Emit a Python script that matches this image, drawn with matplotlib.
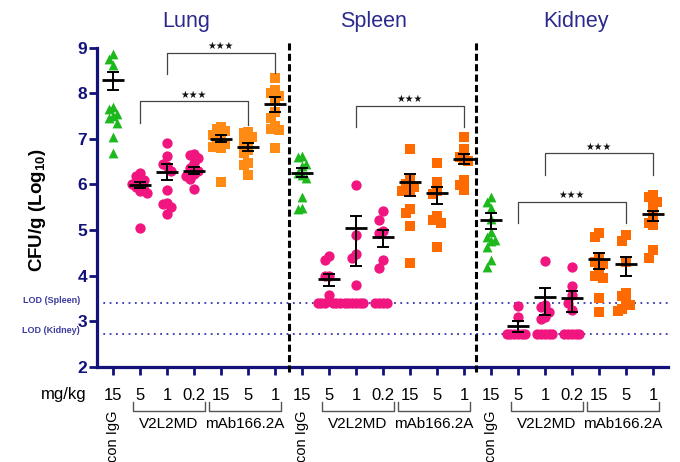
import numpy as np
import matplotlib
matplotlib.use("Agg")
import matplotlib.pyplot as plt
from matplotlib.transforms import blended_transform_factory

plt.rcParams['font.family'] = ['Liberation Sans', 'DejaVu Sans']
plt.rcParams['mathtext.default'] = 'regular'

# ---- data ----
organs = ["Lung", "Spleen", "Kidney"]
doses = ["15", "5", "1", "0.2", "15", "5", "1"]
lod_spleen = 3.40
lod_kidney = 2.72

lung_pts = [
    [8.87, 8.75, 8.62, 7.70, 7.65, 7.55, 7.50, 7.45, 7.35, 7.05, 6.68],
    [6.25, 6.18, 6.10, 6.05, 6.00, 5.95, 5.88, 5.85, 5.82, 5.05],
    [6.90, 6.62, 6.45, 6.40, 6.30, 5.88, 5.60, 5.57, 5.50, 5.35],
    [6.67, 6.64, 6.58, 6.46, 6.35, 6.30, 6.22, 6.18, 6.12, 5.90],
    [7.25, 7.22, 7.18, 7.08, 7.00, 6.95, 6.88, 6.83, 6.80, 6.05],
    [7.16, 7.12, 7.05, 6.95, 6.90, 6.75, 6.70, 6.46, 6.43, 6.20],
    [8.33, 8.07, 8.00, 7.95, 7.85, 7.60, 7.45, 7.28, 7.22, 7.20, 6.79],
]
spleen_pts = [
    [6.62, 6.60, 6.45, 6.40, 6.25, 6.20, 6.15, 5.73, 5.49, 5.47],
    [4.43, 4.35, 4.00, 3.98, 3.58, 3.40, 3.40, 3.40, 3.40, 3.40, 3.40],
    [5.99, 4.90, 4.48, 4.38, 3.80, 3.40, 3.40, 3.40, 3.40, 3.40, 3.40],
    [5.42, 5.23, 4.98, 4.93, 4.34, 4.16, 3.40, 3.40, 3.40, 3.40],
    [6.77, 6.10, 6.02, 5.95, 5.88, 5.85, 5.45, 5.38, 5.09, 4.28],
    [6.46, 6.06, 5.85, 5.78, 5.30, 5.22, 5.15, 4.63],
    [7.03, 6.77, 6.60, 6.55, 6.52, 6.10, 5.99, 5.88],
]
kidney_pts = [
    [5.73, 5.62, 5.48, 5.25, 4.95, 4.84, 4.78, 4.75, 4.63, 4.34, 4.19],
    [3.33, 3.10, 2.72, 2.72, 2.72, 2.72, 2.72, 2.72],
    [4.33, 3.35, 3.30, 3.20, 3.10, 3.05, 2.72, 2.72, 2.72, 2.72, 2.72],
    [4.18, 3.77, 3.57, 3.40, 3.25, 2.72, 2.72, 2.72, 2.72, 2.72],
    [4.93, 4.85, 4.40, 4.30, 4.25, 4.10, 4.00, 3.95, 3.50, 3.20],
    [4.90, 4.75, 4.30, 3.62, 3.55, 3.40, 3.35, 3.27, 3.22],
    [5.77, 5.72, 5.62, 5.50, 5.30, 5.15, 5.10, 4.56, 4.38],
]

lung_mean = [8.30, 5.98, 6.28, 6.30, 7.00, 6.82, 7.76]
lung_lo = [8.08, 5.92, 6.09, 6.22, 6.92, 6.73, 7.60]
lung_hi = [8.47, 6.06, 6.45, 6.38, 7.08, 6.91, 7.91]
spleen_mean = [6.26, 3.93, 5.05, 4.85, 6.05, 5.82, 6.56]
spleen_lo = [6.16, 3.78, 4.22, 4.62, 5.74, 5.58, 6.44]
spleen_hi = [6.35, 4.04, 5.31, 4.99, 6.22, 5.94, 6.67]
kidney_mean = [5.23, 2.90, 3.52, 3.50, 4.37, 4.25, 5.34]
kidney_lo = [5.03, 2.76, 3.13, 3.19, 4.15, 3.99, 5.19]
kidney_hi = [5.37, 3.00, 3.72, 3.66, 4.49, 4.41, 5.42]

# significance brackets: (x1, x2, top, left leg end, right leg end)
sig = [(1, 5, 7.82, 7.34, 7.30), (2, 6, 8.89, 8.42, 8.44),
       (9, 13, 7.72, 7.25, 7.25),
       (15, 19, 5.62, 5.15, 5.15), (16, 20, 6.68, 6.21, 6.21)]

all_pts = [lung_pts, spleen_pts, kidney_pts]
all_mean = [lung_mean, spleen_mean, kidney_mean]
all_lo = [lung_lo, spleen_lo, kidney_lo]
all_hi = [lung_hi, spleen_hi, kidney_hi]

green = "#1cb81c"
pink = "#f0157f"
orange = ["#ff8a14", "#ff6a00", "#ff6a00"]
navy = "#12127a"
title_col = "#2a2a8e"


def swarm(vals, dx=0.28, dy=0.4, thr=0.5, step=0.14):
    # simple beeswarm so dots of close value spread sideways
    vals = np.asarray(vals)
    order = np.argsort(-vals, kind="stable")
    placed = []
    offs = np.zeros(len(vals))
    for i in order:
        y = vals[i]
        for k in [0, -1, 1, -2, 2, -3, 3, -4, 4, -5, 5, -6, 6]:
            ox = k * step
            if all(((ox - px) / dx) ** 2 + ((y - py) / dy) ** 2 >= thr ** 2
                   for px, py in placed):
                break
        offs[i] = ox
        placed.append((ox, y))
    return offs


fig = plt.figure(figsize=(6.8, 4.62), dpi=100)
ax = fig.add_axes([97 / 680, 1 - 366.7 / 462, 571 / 680, 319 / 462])
ax.set_xlim(-0.59, 20.56)
ax.set_ylim(2, 9)

for p in range(3):
    for g in range(7):
        x0 = p * 7 + g
        vals = all_pts[p][g]
        offs = swarm(vals)
        if g == 0:
            ax.scatter(x0 + offs, vals, marker="^", s=50, color=green, lw=0, zorder=3)
        elif g <= 3:
            ax.scatter(x0 + offs, vals, marker="o", s=55, color=pink, lw=0, zorder=3)
        else:
            ax.scatter(x0 + offs, vals, marker="s", s=48, color=orange[p], lw=0, zorder=3)
        m = all_mean[p][g]
        ax.hlines(m, x0 - 0.4, x0 + 0.4, color="black", lw=2.0, zorder=5)
        ax.errorbar(x0, m, yerr=[[m - all_lo[p][g]], [all_hi[p][g] - m]],
                    fmt="none", ecolor="black", elinewidth=1.4, capsize=4.5,
                    capthick=1.4, zorder=5)

# LOD lines
ax.axhline(lod_spleen, color="#3535b0", lw=1.3, ls=(0, (1, 2.5)), zorder=1)
ax.axhline(lod_kidney, color="#3535b0", lw=1.3, ls=(0, (1, 2.5)), zorder=1)

# organ separators
for xs in [6.52, 13.45]:
    ax.plot([xs, xs], [1.89, 9.17], color="black", lw=2.2,
            ls=(0, (2.3, 1.1)), clip_on=False, zorder=6)

# significance brackets
for x1, x2, top, l1, l2 in sig:
    ax.plot([x1, x1, x2, x2], [l1, top, top, l2], color="#444444", lw=0.9, zorder=4)
    ax.text((x1 + x2) / 2, top + 0.04, "\u2605\u2605\u2605", ha="center", va="bottom",
            fontsize=7, family="DejaVu Sans", color="#111111")

# axes styling
for s in ["top", "right"]:
    ax.spines[s].set_visible(False)
for s in ["left", "bottom"]:
    ax.spines[s].set_color(navy)
    ax.spines[s].set_linewidth(2.3)
ax.set_yticks(range(2, 10))
ax.set_xticks(range(21))
ax.set_xticklabels([])
ax.tick_params(axis="both", colors=navy, width=2.0, length=6, direction="out")
ax.tick_params(axis="y", labelsize=12.5, labelcolor=navy, pad=1)
for lab in ax.get_yticklabels():
    lab.set_fontweight("bold")

fig.text(37 / 680, 1 - 210 / 462, r"CFU/g (Log$_{10}$)", rotation=90,
         ha="center", va="center", fontsize=13.5, fontweight="bold")

# LOD labels
trl = blended_transform_factory(fig.transFigure, ax.transData)
fig.text(80 / 680, lod_spleen + 0.05, "LOD (Spleen)", transform=trl, ha="right",
         va="center", fontsize=6.5, fontweight="bold", color="#3d3d9e")
fig.text(80 / 680, lod_kidney + 0.07, "LOD (Kidney)", transform=trl, ha="right",
         va="center", fontsize=6.5, fontweight="bold", color="#3d3d9e")

# titles
for name, px in zip(organs, [186, 373, 576]):
    fig.text(px / 680, 1 - 22 / 462, name, ha="center", va="center",
             fontsize=15.5, color=title_col)

# dose row and group brackets below the axis
tr = blended_transform_factory(ax.transData, fig.transFigure)
fig.text(87 / 680, 1 - 395 / 462, "mg/kg", ha="right", va="center", fontsize=12)
for p in range(3):
    off = p * 7
    for g, d in enumerate(doses):
        ax.text(off + g, 1 - 395 / 462, d, transform=tr, ha="center",
                va="center", fontsize=12)
    for a, b, lab in [(0.73, 3.4, "V2L2MD"), (3.55, 6.22, "mAb166.2A")]:
        yb, yt = 1 - 411 / 462, 1 - 402 / 462
        ax.plot([off + a, off + a, off + b, off + b], [yt, yb, yb, yt],
                transform=tr, color="#555555", lw=1.0, clip_on=False)
        ax.text(off + (a + b) / 2, 1 - 424 / 462, lab, transform=tr,
                ha="center", va="center", fontsize=11)
    ax.text(off, 1 - 411 / 462, "con IgG", transform=tr, rotation=90,
            ha="center", va="top", fontsize=10.5)

fig.savefig("out.png", dpi=100)
